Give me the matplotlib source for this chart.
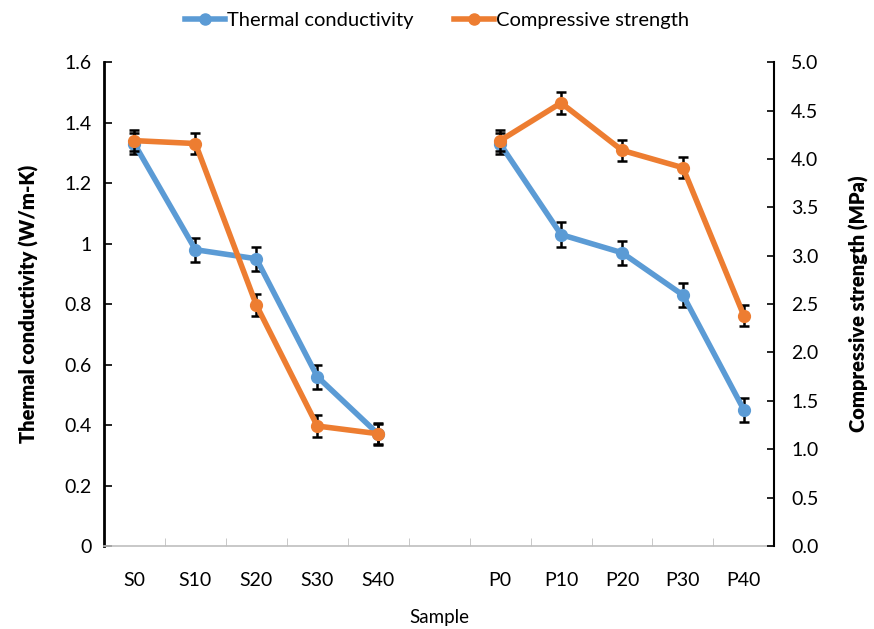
import numpy as np
import matplotlib.pyplot as plt
from matplotlib.lines import Line2D

plt.rcParams['font.family'] = ['Lato', 'DejaVu Sans']

# categories (empty slot separates the two sample groups)
samples = ['S0', 'S10', 'S20', 'S30', 'S40', '', 'P0', 'P10', 'P20', 'P30', 'P40']
thermal = [1.33, 0.98, 0.95, 0.56, 0.37, np.nan, 1.33, 1.03, 0.97, 0.83, 0.45]
thermal_err = [0.035, 0.04, 0.04, 0.04, 0.035, np.nan, 0.035, 0.04, 0.04, 0.04, 0.04]
strength = [4.19, 4.16, 2.49, 1.24, 1.16, np.nan, 4.19, 4.58, 4.09, 3.91, 2.38]
strength_err = [0.11, 0.11, 0.11, 0.11, 0.11, np.nan, 0.11, 0.11, 0.11, 0.11, 0.11]

blue = '#5B9BD5'
orange = '#ED7D31'

fig = plt.figure(figsize=(8.74, 6.29), dpi=100)
ax = fig.add_axes([0.119, 0.132, 0.767, 0.769])
ax2 = ax.twinx()

x = np.arange(len(samples))

# Thermal conductivity on the left axis
ax.errorbar(x, thermal, yerr=thermal_err, fmt='none', ecolor='black',
            elinewidth=1.8, capsize=3.5, capthick=1.8, zorder=2)
ax.plot(x, thermal, color=blue, lw=4, marker='o', ms=8.5, zorder=3)

# Compressive strength on the right axis
ax2.errorbar(x, strength, yerr=strength_err, fmt='none', ecolor='black',
             elinewidth=1.8, capsize=3.5, capthick=1.8, zorder=2)
ax2.plot(x, strength, color=orange, lw=4, marker='o', ms=8.5, zorder=3)

ax.set_xlim(-0.5, len(samples) - 0.5)
ax.set_ylim(0, 1.6)
ax2.set_ylim(0, 5.0)

ax.set_yticks(np.arange(0, 1.61, 0.2))
ax.set_yticklabels(['0', '0.2', '0.4', '0.6', '0.8', '1', '1.2', '1.4', '1.6'])
ax2.set_yticks(np.arange(0, 5.01, 0.5))
ax2.set_yticklabels(['%.1f' % v for v in np.arange(0, 5.01, 0.5)])

ax.set_xticks(x)
ax.set_xticklabels(samples)
ax.set_xticks(np.arange(-0.5, len(samples), 1), minor=True)
ax.tick_params(axis='x', which='major', length=0, pad=19, labelsize=14)
ax.tick_params(axis='x', which='minor', direction='in', length=6, color='#BFBFBF')
ax.tick_params(axis='y', direction='in', length=6, width=1.2, labelsize=14, pad=9)
ax2.tick_params(axis='y', direction='in', length=5, width=1.2, labelsize=14, pad=12)

for a in (ax, ax2):
    for side in ('top', 'right', 'left', 'bottom'):
        a.spines[side].set_visible(False)
ax.spines['left'].set_visible(True)
ax.spines['left'].set_linewidth(2)
ax2.spines['right'].set_visible(True)
ax2.spines['right'].set_linewidth(1.5)
ax.spines['bottom'].set_visible(True)
ax.spines['bottom'].set_color('#BFBFBF')
ax.spines['bottom'].set_linewidth(1.2)

ax.set_xlabel('Sample', fontsize=13.5, labelpad=14)
ax.set_ylabel('Thermal conductivity (W/m-K)', fontsize=14.5, fontweight='heavy', labelpad=18)
ax2.set_ylabel('Compressive strength (MPa)', fontsize=14.5, fontweight='heavy', labelpad=22)

handles = [Line2D([], [], color=blue, lw=4, marker='o', ms=8),
           Line2D([], [], color=orange, lw=4, marker='o', ms=8)]
fig.legend(handles, ['Thermal conductivity', 'Compressive strength'],
           loc='upper center', bbox_to_anchor=(0.5, 1.01), ncol=2, frameon=False,
           fontsize=14.5, handlelength=2.0, handletextpad=0.1, columnspacing=2.0)

fig.savefig('out.png', dpi=100)
